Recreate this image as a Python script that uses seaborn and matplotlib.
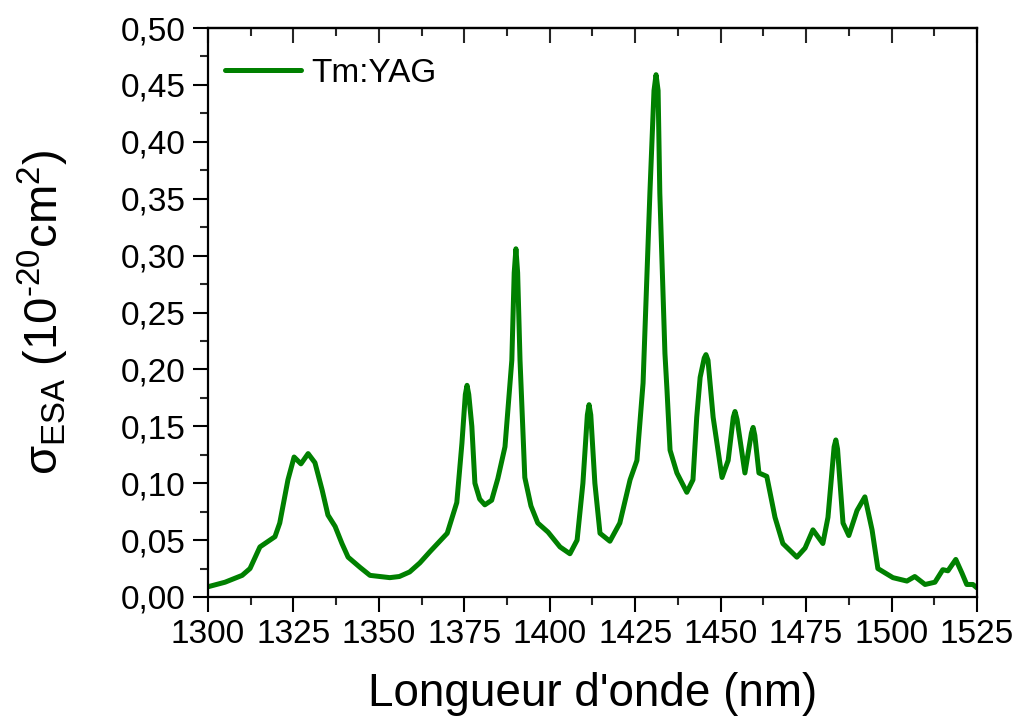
import numpy as np
import pandas as pd
import matplotlib
matplotlib.use("Agg")
import matplotlib.pyplot as plt
from matplotlib.ticker import MultipleLocator, FuncFormatter
import seaborn as sns

wavelength = [1300, 1305, 1310, 1312.3, 1315.2, 1319.6, 1321, 1323.4, 1325.2, 1327.2,
              1329.3, 1331.3, 1333.4, 1335.1, 1337.2, 1339.2, 1341, 1344.5, 1347.4, 1350.3,
              1353.2, 1356, 1359, 1362, 1365, 1367.5, 1370, 1372.8, 1374.3, 1375.3,
              1375.8, 1376.3, 1377.2, 1378.1, 1379.5, 1381, 1383, 1384.8, 1386.9, 1388.9,
              1389.6, 1390.1, 1390.6, 1391.3, 1392.7, 1394.5, 1396.5, 1399.5, 1403, 1405.9,
              1408, 1409.7, 1411, 1411.5, 1412, 1413.2, 1414.7, 1417.6, 1420.5, 1423.5,
              1425.5, 1427.3, 1428.7, 1429.3, 1430.5, 1431.1, 1431.7, 1432.2, 1433.7, 1434.3,
              1435.2, 1437.2, 1440.1, 1441.9, 1443, 1444, 1445.2, 1445.7, 1446.3, 1447.8,
              1450.4, 1452.2, 1453.7, 1454.2, 1454.8, 1457.1, 1459, 1459.5, 1460, 1461.2,
              1463.5, 1465.9, 1468.2, 1472.3, 1474.7, 1477, 1479.9, 1481.4, 1483.2, 1483.7,
              1484.2, 1485.8, 1487.5, 1489.9, 1492.2, 1494.3, 1496, 1500.4, 1504.5, 1506.8,
              1509.8, 1512.7, 1515, 1516.5, 1518.8, 1520.6, 1522, 1523.8, 1525]

sigma_esa = [0.009, 0.013, 0.019, 0.025, 0.044, 0.053, 0.065, 0.103, 0.123, 0.117,
             0.126, 0.118, 0.094, 0.072, 0.062, 0.047, 0.035, 0.026, 0.019, 0.018,
             0.017, 0.018, 0.022, 0.030, 0.040, 0.048, 0.056, 0.083, 0.135, 0.178,
             0.186, 0.178, 0.150, 0.100, 0.086, 0.081, 0.085, 0.104, 0.132, 0.208,
             0.285, 0.306, 0.285, 0.208, 0.105, 0.080, 0.065, 0.057, 0.044, 0.038,
             0.050, 0.100, 0.160, 0.169, 0.160, 0.100, 0.056, 0.049, 0.065, 0.103,
             0.120, 0.188, 0.305, 0.355, 0.445, 0.459, 0.445, 0.355, 0.214, 0.182,
             0.129, 0.109, 0.092, 0.103, 0.158, 0.193, 0.210, 0.213, 0.208, 0.158,
             0.105, 0.120, 0.158, 0.163, 0.156, 0.109, 0.144, 0.149, 0.142, 0.109,
             0.106, 0.070, 0.047, 0.035, 0.043, 0.059, 0.047, 0.070, 0.132, 0.138,
             0.130, 0.065, 0.054, 0.076, 0.088, 0.059, 0.025, 0.017, 0.014, 0.018,
             0.011, 0.013, 0.024, 0.023, 0.033, 0.021, 0.011, 0.011, 0.008]

series_name = "Tm:YAG"
x_ticks = [1300, 1325, 1350, 1375, 1400, 1425, 1450, 1475, 1500, 1525]
y_ticks = [0.00, 0.05, 0.10, 0.15, 0.20, 0.25, 0.30, 0.35, 0.40, 0.45, 0.50]

df = pd.DataFrame({"wl": wavelength, "sigma": sigma_esa, "name": series_name})

sns.set_style("ticks")
plt.rcParams["font.family"] = ["Liberation Sans", "DejaVu Sans"]
plt.rcParams["mathtext.fontset"] = "custom"
plt.rcParams["mathtext.rm"] = "Liberation Sans"
plt.rcParams["mathtext.it"] = "Liberation Sans"
plt.rcParams["mathtext.bf"] = "Liberation Sans:bold"
plt.rcParams["mathtext.sf"] = "Liberation Sans"
plt.rcParams["text.color"] = "black"
plt.rcParams["axes.labelcolor"] = "black"

fig = plt.figure(figsize=(10.16, 7.26), dpi=100)
ax = fig.add_axes([0.2047, 0.1777, 0.9616 - 0.2047, 0.9614 - 0.1777])

sns.lineplot(data=df, x="wl", y="sigma", hue="name", palette=["#008000"],
             linewidth=3.6, ax=ax, legend=True)
for ln in ax.get_lines():
    ln.set_solid_joinstyle("round")
    ln.set_solid_capstyle("round")

ax.set_xlim(1300, 1525)
ax.set_ylim(0, 0.50)
ax.set_xticks(x_ticks)
ax.set_yticks(y_ticks)
ax.xaxis.set_minor_locator(MultipleLocator(12.5))
ax.yaxis.set_minor_locator(MultipleLocator(0.025))
ax.yaxis.set_major_formatter(FuncFormatter(lambda v, p: f"{v:.2f}".replace(".", ",")))

for s in ax.spines.values():
    s.set_linewidth(1.6)
    s.set_color("black")

ax.tick_params(axis="both", which="major", direction="out", length=11, width=1.5,
               labelsize=24, pad=5, colors="black")
ax.tick_params(axis="both", which="minor", direction="out", length=6, width=1.5)
ax.tick_params(top=False, right=False, which="both")

sec = ax.secondary_xaxis("top")
sec.set_xticks(x_ticks)
sec.xaxis.set_minor_locator(MultipleLocator(12.5))
sec.tick_params(which="major", direction="in", length=11, width=1.5, labeltop=False)
sec.tick_params(which="minor", direction="in", length=6, width=1.5)
sec.spines["top"].set_linewidth(1.6)

ax.set_xlabel("Longueur d'onde (nm)", fontsize=33, labelpad=16, color="black")
ax.set_ylabel("$\\sigma_{\\mathrm{ESA}}$ (10$^{\\mathrm{\u201020}}$cm$^{\\mathrm{2}}$)",
              fontsize=34, labelpad=36, color="black")

leg = ax.legend(loc="upper left", bbox_to_anchor=(0.0, 0.977), frameon=False,
                fontsize=24, handlelength=2.3, handletextpad=0.3, borderaxespad=0.1)
for t in leg.get_texts():
    t.set_text(series_name)
    t.set_color("black")
for h in leg.get_lines():
    h.set_linewidth(3.6)

fig.savefig("out.png", dpi=100)
